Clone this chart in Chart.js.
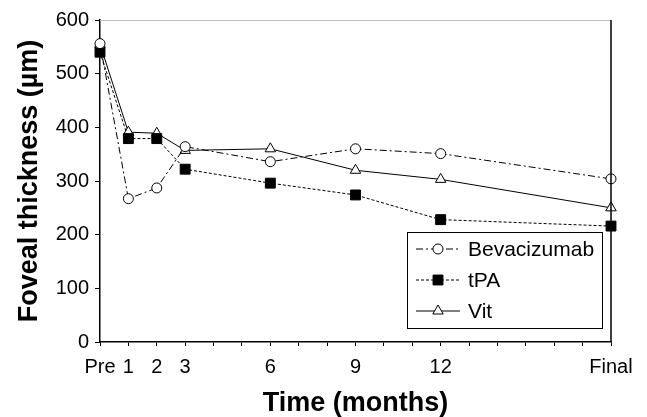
<!DOCTYPE html>
<html>
<head>
<meta charset="utf-8">
<script src="https://cdn.jsdelivr.net/npm/chart.js@4.4.1/dist/chart.umd.min.js"></script>
<style>
html,body{margin:0;padding:0;background:#fff;}
#wrap{width:647px;height:417px;position:relative;}
</style>
</head>
<body>
<div id="wrap"><canvas id="c" width="647" height="417"></canvas></div>
<script>
const categories = ['Pre', '1', '2', '3', '6', '9', '12', 'Final'];
const months = [0, 1, 2, 3, 6, 9, 12, 18];
const bevacizumab = [556, 267, 287, 364, 336, 360, 351, 304];
const tpa = [540, 379, 379, 322, 296, 274, 228, 216];
const vit = [555, 391, 389, 357, 360, 320, 303, 250];
const seriesNames = ['Bevacizumab', 'tPA', 'Vit'];
const yTickValues = [0, 100, 200, 300, 400, 500, 600];

const FONT = "'Liberation Sans', Arial, sans-serif";

function pts(vals) { return months.map((m, i) => ({ x: m, y: vals[i] })); }

const legendPlugin = {
  id: 'boxLegend',
  afterDraw(chart) {
    const ctx = chart.ctx;
    const ca = chart.chartArea;
    ctx.save();
    // plot border: gray top, black right
    ctx.lineWidth = 1;
    ctx.strokeStyle = '#c0c0c0';
    ctx.beginPath(); ctx.moveTo(ca.left, ca.top + 0.5); ctx.lineTo(ca.right, ca.top + 0.5); ctx.stroke();
    ctx.strokeStyle = '#000';
    ctx.lineWidth = 1.5;
    ctx.beginPath(); ctx.moveTo(ca.right, ca.top); ctx.lineTo(ca.right, ca.bottom); ctx.stroke();
    // legend box
    const bx = 407.5, by = 232.5, bw = 195, bh = 96;
    ctx.fillStyle = '#fff';
    ctx.fillRect(bx, by, bw, bh);
    ctx.lineWidth = 1;
    ctx.strokeStyle = '#000';
    ctx.strokeRect(bx, by, bw, bh);
    const rows = [249, 280, 311];
    chart.data.datasets.forEach((ds, i) => {
      const y = rows[i];
      ctx.save();
      ctx.strokeStyle = ds.borderColor;
      ctx.lineWidth = ds.borderWidth;
      ctx.setLineDash(ds.borderDash || []);
      ctx.beginPath(); ctx.moveTo(416, y); ctx.lineTo(460, y); ctx.stroke();
      ctx.restore();
      ctx.save();
      ctx.fillStyle = ds.pointBackgroundColor;
      ctx.strokeStyle = ds.pointBorderColor;
      ctx.lineWidth = ds.pointBorderWidth;
      ctx.setLineDash([]);
      Chart.helpers.drawPoint(ctx, { pointStyle: ds.pointStyle, radius: ds.pointRadius, rotation: 0, borderWidth: ds.pointBorderWidth }, 438, y);
      ctx.restore();
      ctx.fillStyle = '#000';
      ctx.font = '21px ' + FONT;
      ctx.textBaseline = 'middle';
      ctx.textAlign = 'left';
      ctx.fillText(ds.label, 468, y + 1);
    });
    ctx.restore();
  }
};

new Chart(document.getElementById('c'), {
  type: 'line',
  data: {
    datasets: [
      {
        label: seriesNames[0], data: pts(bevacizumab), clip: false,
        borderColor: '#000', borderWidth: 1, borderDash: [7, 3, 2, 3],
        pointStyle: 'circle', pointRadius: 5, pointBackgroundColor: '#fff',
        pointBorderColor: '#000', pointBorderWidth: 1, tension: 0
      },
      {
        label: seriesNames[1], data: pts(tpa), clip: false,
        borderColor: '#000', borderWidth: 1, borderDash: [3, 2],
        pointStyle: 'rect', pointRadius: 7, pointBackgroundColor: '#000',
        pointBorderColor: '#000', pointBorderWidth: 1, tension: 0
      },
      {
        label: seriesNames[2], data: pts(vit), clip: false,
        borderColor: '#000', borderWidth: 1, borderDash: [],
        pointStyle: 'triangle', pointRadius: 6, pointBackgroundColor: '#fff',
        pointBorderColor: '#000', pointBorderWidth: 1, tension: 0
      }
    ]
  },
  options: {
    responsive: false,
    animation: false,
    events: [],
    layout: { padding: { left: 0, right: 36, top: 20, bottom: 0 } },
    plugins: { legend: { display: false }, tooltip: { enabled: false } },
    scales: {
      x: {
        type: 'linear', min: 0, max: 18,
        afterBuildTicks(scale) { scale.ticks = Array.from({ length: 19 }, (_, i) => ({ value: i })); },
        afterFit(scale) { scale.height = 75; },
        ticks: {
          autoSkip: false, maxRotation: 0, color: '#000', padding: 9,
          font: { family: FONT, size: 20 },
          callback(v) { const k = months.indexOf(v); return k >= 0 ? categories[k] : ''; }
        },
        grid: { drawOnChartArea: false, drawTicks: true, tickLength: 4, color: '#000', lineWidth: 1 },
        border: { color: '#000', width: 1.5 },
        title: {
          display: true, text: 'Time (months)', color: '#000',
          font: { family: FONT, size: 27, weight: 'bold', lineHeight: 1 }, padding: { top: 0, bottom: 0 }
        }
      },
      y: {
        min: 0, max: 600,
        afterBuildTicks(scale) { scale.ticks = yTickValues.map(v => ({ value: v })); },
        afterFit(scale) { scale.width = 100; },
        ticks: { color: '#000', padding: 6, font: { family: FONT, size: 20 } },
        grid: { drawOnChartArea: false, drawTicks: true, tickLength: 5, color: '#000', lineWidth: 1 },
        border: { color: '#000', width: 1.5 },
        title: {
          display: true, text: 'Foveal thickness (µm)', color: '#000',
          font: { family: FONT, size: 27, weight: 'bold', lineHeight: 1 }, padding: { top: 16, bottom: 0 }
        }
      }
    }
  },
  plugins: [legendPlugin]
});
</script>
</body>
</html>
